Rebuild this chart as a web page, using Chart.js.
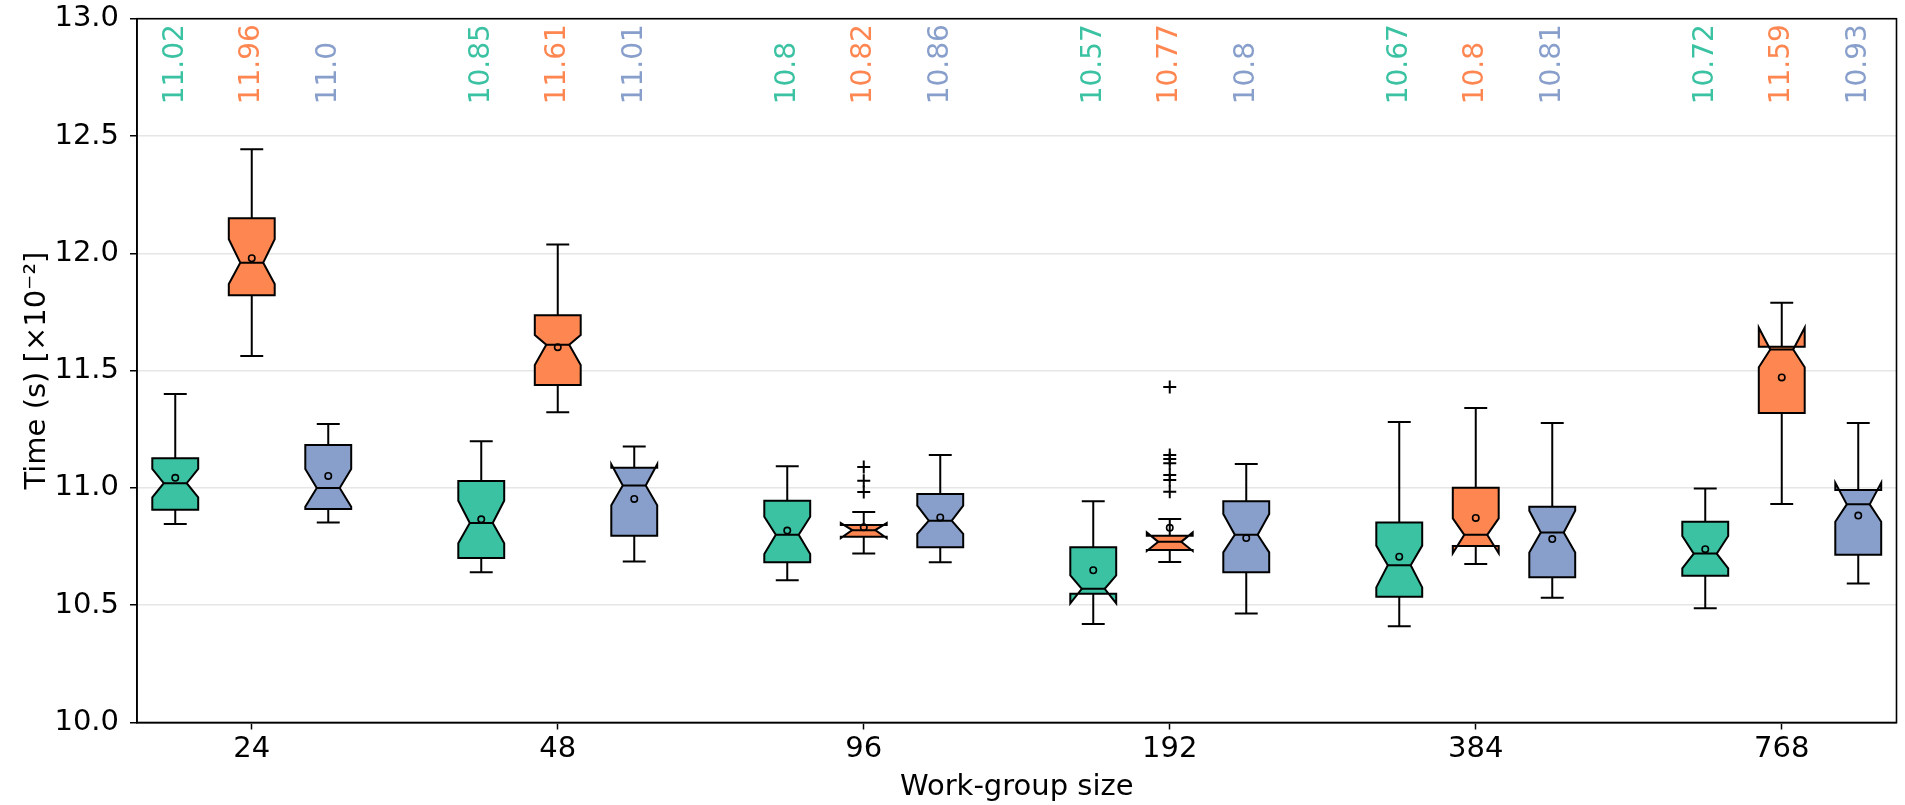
<!DOCTYPE html>
<html lang="en">
<head>
<meta charset="UTF-8">
<title>Work-group size timings</title>
<script src="https://cdn.jsdelivr.net/npm/chart.js"></script>
<style>
  html, body { margin: 0; padding: 0; background: #fff; }
  #wrap { width: 1905px; height: 805px; }
</style>
</head>
<body>
<div id="wrap"><canvas id="boxChart" width="1905" height="805"></canvas></div>
<script>
// categories on the x axis
const groups = ['24', '48', '96', '192', '384', '768'];
const yTicks = [10.0, 10.5, 11.0, 11.5, 12.0, 12.5, 13.0];

// one row per series (green, orange, blue), one column per work-group size
const medians = [
  [11.02, 10.85, 10.8, 10.57, 10.67, 10.72],
  [11.96, 11.61, 10.82, 10.77, 10.8, 11.59],
  [11.0, 11.01, 10.86, 10.8, 10.81, 10.93]
];
const q1 = [
  [10.907, 10.701, 10.683, 10.549, 10.536, 10.626],
  [11.821, 11.439, 10.792, 10.735, 10.752, 11.319],
  [10.910, 10.796, 10.747, 10.640, 10.619, 10.715]
];
const q3 = [
  [11.126, 11.029, 10.945, 10.747, 10.853, 10.856],
  [12.149, 11.736, 10.842, 10.796, 11.001, 11.602],
  [11.183, 11.086, 10.974, 10.943, 10.920, 10.991]
];
const whiskerLow = [
  [10.846, 10.640, 10.606, 10.420, 10.410, 10.487],
  [11.562, 11.322, 10.720, 10.684, 10.676, 10.931],
  [10.852, 10.686, 10.683, 10.465, 10.532, 10.592]
];
const whiskerHigh = [
  [11.400, 11.199, 11.092, 10.943, 11.281, 10.997],
  [12.443, 12.038, 10.897, 10.867, 11.341, 11.789],
  [11.272, 11.176, 11.140, 11.102, 11.277, 11.277]
];
const notchLow = [
  [10.960, 10.764, 10.718, 10.508, 10.576, 10.657],
  [11.869, 11.524, 10.786, 10.731, 10.721, 11.514],
  [10.920, 10.926, 10.804, 10.725, 10.725, 10.856]
];
const notchHigh = [
  [11.081, 10.945, 10.877, 10.627, 10.754, 10.795],
  [12.060, 11.652, 10.850, 10.810, 10.870, 11.683],
  [11.081, 11.101, 10.924, 10.889, 10.903, 11.022]
];
const means = [
  [11.043, 10.866, 10.818, 10.649, 10.707, 10.739],
  [11.979, 11.600, 10.832, 10.830, 10.872, 11.471],
  [11.051, 10.953, 10.874, 10.786, 10.782, 10.882]
];
const outliers = [
  [[], [], [], [], [], []],
  [[], [], [11.089, 11.030, 10.982], [11.430, 11.140, 11.123, 11.105, 11.055, 11.034, 10.984], [], []],
  [[], [], [], [], [], []]
];

const colors = ['#3bc2a2', '#fe8651', '#889fcb'];
const offsets = [-0.25, 0, 0.25];
const boxWidth = 0.15;
const labelAnchor = 12.635;
const FONT = 'DejaVu Sans';
const FONT_SIZE = 29;

// python-like str(round(v, 2))
function medianText(v) {
  let s = String(Math.round(v * 100) / 100);
  if (s.indexOf('.') < 0) s += '.0';
  return s;
}

// notched boxes, whiskers and caps
const notchedBoxes = {
  id: 'notchedBoxes',
  beforeDatasetsDraw(chart) {
    const { ctx, scales: { x, y } } = chart;
    ctx.save();
    ctx.lineWidth = 2;
    ctx.strokeStyle = '#000';
    ctx.lineJoin = 'miter';
    for (let s = 0; s < medians.length; s++) {
      for (let i = 0; i < groups.length; i++) {
        const c = i + offsets[s];
        const L = x.getPixelForValue(c - boxWidth / 2);
        const R = x.getPixelForValue(c + boxWidth / 2);
        const cl = x.getPixelForValue(c - boxWidth / 4);
        const cr = x.getPixelForValue(c + boxWidth / 4);
        const px = x.getPixelForValue(c);
        const yQ1 = y.getPixelForValue(q1[s][i]);
        const yQ3 = y.getPixelForValue(q3[s][i]);
        const yMed = y.getPixelForValue(medians[s][i]);
        const yNl = y.getPixelForValue(notchLow[s][i]);
        const yNh = y.getPixelForValue(notchHigh[s][i]);
        const yWl = y.getPixelForValue(whiskerLow[s][i]);
        const yWh = y.getPixelForValue(whiskerHigh[s][i]);

        ctx.beginPath();
        ctx.moveTo(L, yQ1);
        ctx.lineTo(R, yQ1);
        ctx.lineTo(R, yNl);
        ctx.lineTo(cr, yMed);
        ctx.lineTo(R, yNh);
        ctx.lineTo(R, yQ3);
        ctx.lineTo(L, yQ3);
        ctx.lineTo(L, yNh);
        ctx.lineTo(cl, yMed);
        ctx.lineTo(L, yNl);
        ctx.closePath();
        ctx.fillStyle = colors[s];
        ctx.fill();
        ctx.stroke();

        ctx.beginPath();
        ctx.moveTo(px, yQ1); ctx.lineTo(px, yWl);
        ctx.moveTo(px, yQ3); ctx.lineTo(px, yWh);
        ctx.moveTo(cl, yWl); ctx.lineTo(cr, yWl);
        ctx.moveTo(cl, yWh); ctx.lineTo(cr, yWh);
        ctx.moveTo(cl, yMed); ctx.lineTo(cr, yMed);
        ctx.stroke();
      }
    }
    ctx.restore();
  }
};

// median labels along the top + frame round the plot
const topLabels = {
  id: 'topLabels',
  afterDraw(chart) {
    const { ctx, chartArea, scales: { x, y } } = chart;
    ctx.save();
    ctx.font = '28px "' + FONT + '"';
    ctx.textAlign = 'left';
    ctx.textBaseline = 'middle';
    for (let s = 0; s < medians.length; s++) {
      for (let i = 0; i < groups.length; i++) {
        ctx.save();
        ctx.translate(x.getPixelForValue(i + offsets[s]), y.getPixelForValue(labelAnchor));
        ctx.rotate(-Math.PI / 2);
        ctx.fillStyle = colors[s];
        ctx.fillText(medianText(medians[s][i]), 0, 0);
        ctx.restore();
      }
    }
    ctx.lineWidth = 1.6;
    ctx.strokeStyle = '#000';
    ctx.strokeRect(chartArea.left, chartArea.top, chartArea.right - chartArea.left, chartArea.bottom - chartArea.top);
    ctx.restore();
  }
};

const datasets = [];
for (let s = 0; s < medians.length; s++) {
  datasets.push({
    label: 'mean ' + s,
    data: means[s].map((v, i) => ({ x: i + offsets[s], y: v })),
    pointStyle: 'circle',
    pointRadius: 3.2,
    borderWidth: 1.6,
    borderColor: '#000',
    backgroundColor: 'rgba(0,0,0,0)'
  });
  const pts = [];
  outliers[s].forEach((list, i) => list.forEach(v => pts.push({ x: i + offsets[s], y: v })));
  datasets.push({
    label: 'outliers ' + s,
    data: pts,
    pointStyle: 'cross',
    pointRadius: 6.5,
    borderWidth: 2,
    borderColor: '#000'
  });
}

new Chart(document.getElementById('boxChart'), {
  type: 'scatter',
  data: { datasets },
  options: {
    responsive: false,
    animation: false,
    devicePixelRatio: 1,
    layout: { padding: { top: 18.7, right: 1.3, left: 0, bottom: 0 } },
    plugins: { legend: { display: false }, tooltip: { enabled: false } },
    scales: {
      x: {
        type: 'linear',
        min: -0.375,
        max: groups.length - 1 + 0.375,
        afterBuildTicks: scale => { scale.ticks = groups.map((g, i) => ({ value: i })); },
        afterFit: scale => {
          scale.height = 82.5;
          scale.paddingLeft = 0;
          scale.paddingRight = 0;
        },
        ticks: {
          callback: v => groups[v],
          font: { family: FONT, size: FONT_SIZE },
          color: '#000',
          padding: 3,
          maxRotation: 0,
          autoSkip: false
        },
        grid: { drawOnChartArea: false, drawTicks: true, tickLength: 7, tickColor: '#000', tickWidth: 1.5 },
        border: { color: '#000', width: 1.6 },
        title: {
          display: true,
          text: 'Work-group size',
          font: { family: FONT, size: FONT_SIZE },
          color: '#000',
          padding: { top: 0, bottom: 0 }
        }
      },
      y: {
        type: 'linear',
        min: yTicks[0],
        max: yTicks[yTicks.length - 1],
        afterBuildTicks: scale => { scale.ticks = yTicks.map(v => ({ value: v })); },
        afterFit: scale => {
          scale.width = 137;
          scale.paddingTop = 0;
          scale.paddingBottom = 0;
        },
        ticks: {
          callback: v => v.toFixed(1),
          font: { family: FONT, size: FONT_SIZE },
          color: '#000',
          padding: 11
        },
        grid: { color: '#e6e6e6', lineWidth: 1.5, tickLength: 7, tickColor: '#000', tickWidth: 1.5 },
        border: { color: '#000', width: 1.6 },
        title: {
          display: true,
          text: 'Time (s) [×10⁻²]',
          font: { family: FONT, size: FONT_SIZE },
          color: '#000',
          padding: { top: 20, bottom: 0 }
        }
      }
    }
  },
  plugins: [notchedBoxes, topLabels]
});
</script>
</body>
</html>
